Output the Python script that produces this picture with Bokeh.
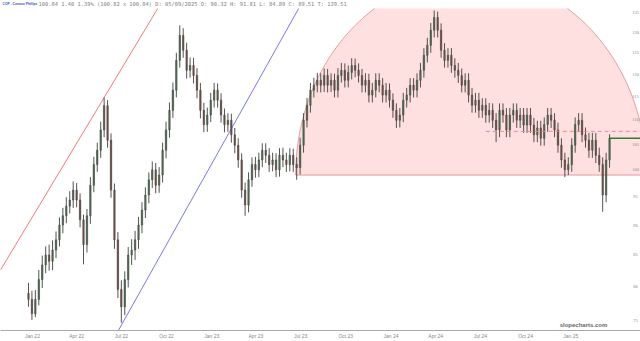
import numpy as np
import pandas as pd
from bokeh.plotting import figure
from bokeh.models import (ColumnDataSource, FixedTicker, DatetimeTickFormatter,
                          Label, LabelSet)
from bokeh.embed import file_html
from bokeh.resources import INLINE

# ---------------- data (weekly bars) ----------------
week_start = "2021-12-24"
n_weeks = 170

opens = [79.0, 78.1, 76.0, 78.1, 81.1, 83.4, 85.0, 84.0, 85.8, 87.5,
         90.0, 91.6, 93.3, 94.4, 96.2, 94.4, 90.9, 86.7, 91.6, 97.1,
         101.0, 103.8, 107.9, 113.0, 105.8, 96.2, 87.5, 79.6, 77.0, 81.1,
         85.0, 85.8, 87.5, 90.0, 92.6, 95.3, 98.1, 100.0, 97.1, 99.0,
         103.8, 107.9, 112.0, 116.4, 123.2, 129.2, 125.6, 120.9, 122.0, 119.7,
         116.4, 112.0, 109.0, 111.0, 114.2, 116.4, 114.2, 111.0, 109.0, 109.9,
         106.9, 104.8, 101.9, 96.2, 93.5, 98.1, 101.0, 100.0, 101.9, 103.8,
         102.8, 101.0, 101.9, 100.0, 102.8, 101.9, 101.0, 102.8, 101.0, 100.4,
         104.8, 109.9, 113.1, 116.4, 117.5, 118.6, 117.5, 119.7, 117.5, 118.6,
         116.4, 119.7, 120.9, 118.6, 120.4, 122.0, 120.9, 119.7, 117.5, 118.6,
         115.3, 116.4, 118.6, 117.5, 115.3, 116.4, 114.2, 112.0, 109.9, 111.0,
         114.2, 115.3, 117.5, 116.4, 118.6, 120.9, 124.4, 126.8, 130.5, 133.7,
         130.5, 125.6, 123.2, 124.4, 122.0, 120.9, 119.7, 117.5, 118.6, 115.3,
         113.1, 114.2, 112.0, 113.1, 111.0, 112.0, 109.9, 107.9, 112.0, 111.0,
         107.9, 111.0, 112.0, 109.9, 111.0, 108.9, 111.0, 108.9, 106.9, 108.3,
         106.2, 109.0, 111.0, 109.9, 107.9, 104.8, 101.9, 100.0, 101.0, 104.8,
         109.0, 109.9, 106.9, 105.8, 103.8, 105.8, 102.8, 101.0, 95.3, 101.9]

closes = [78.1, 76.0, 78.1, 81.1, 83.4, 85.0, 84.0, 85.8, 87.5, 90.0,
          91.6, 93.3, 94.4, 96.2, 94.4, 90.9, 86.7, 91.6, 97.1, 101.0,
          103.8, 107.9, 113.0, 105.8, 96.2, 87.5, 79.6, 77.0, 81.1, 85.0,
          85.8, 87.5, 90.0, 92.6, 95.3, 98.1, 100.0, 97.1, 99.0, 103.8,
          107.9, 112.0, 116.4, 123.2, 129.2, 125.6, 120.9, 122.0, 119.7, 116.4,
          112.0, 109.0, 111.0, 114.2, 116.4, 114.2, 111.0, 109.0, 109.9, 106.9,
          104.8, 101.9, 96.2, 93.5, 98.1, 101.0, 100.0, 101.9, 103.8, 102.8,
          101.0, 101.9, 100.0, 102.8, 101.9, 101.0, 102.8, 101.0, 100.4, 104.8,
          109.9, 113.1, 116.4, 117.5, 118.6, 117.5, 119.7, 117.5, 118.6, 116.4,
          119.7, 120.9, 118.6, 120.4, 122.0, 120.9, 119.7, 117.5, 118.6, 115.3,
          116.4, 118.6, 117.5, 115.3, 116.4, 114.2, 112.0, 109.9, 111.0, 114.2,
          115.3, 117.5, 116.4, 118.6, 120.9, 124.4, 126.8, 130.5, 133.7, 130.5,
          125.6, 123.2, 124.4, 122.0, 120.9, 119.7, 117.5, 118.6, 115.3, 113.1,
          114.2, 112.0, 113.1, 111.0, 112.0, 109.9, 107.9, 112.0, 111.0, 107.9,
          111.0, 112.0, 109.9, 111.0, 108.9, 111.0, 108.9, 106.9, 108.3, 106.2,
          109.0, 111.0, 109.9, 107.9, 104.8, 101.9, 100.0, 101.0, 104.8, 109.0,
          109.9, 106.9, 105.8, 103.8, 105.8, 102.8, 101.0, 95.3, 101.9, 106.2]

highs = [80.6, 79.4, 79.5, 82.6, 84.9, 86.4, 86.7, 87.4, 88.9, 91.3,
         93.0, 94.9, 96.0, 97.8, 97.5, 95.6, 91.8, 92.8, 98.6, 102.5,
         105.3, 109.6, 114.8, 114.2, 107.2, 97.4, 88.8, 81.0, 82.4, 86.3,
         87.6, 89.0, 91.4, 94.0, 96.7, 99.5, 101.6, 101.3, 100.5, 105.3,
         109.6, 113.7, 118.1, 125.0, 131.7, 131.0, 127.4, 123.9, 123.8, 121.4,
         118.0, 113.6, 112.6, 115.8, 118.0, 117.9, 115.7, 112.4, 111.4, 111.3,
         108.3, 106.2, 103.2, 97.6, 99.5, 102.4, 102.5, 103.3, 105.2, 105.2,
         104.2, 103.3, 103.2, 104.2, 104.3, 103.3, 104.2, 104.1, 102.4, 106.3,
         111.4, 114.7, 118.0, 119.2, 120.3, 120.2, 121.3, 121.2, 120.2, 120.1,
         121.4, 122.6, 122.5, 122.0, 123.7, 123.6, 122.5, 121.2, 120.2, 120.1,
         118.0, 120.2, 120.2, 119.1, 118.0, 117.9, 115.7, 113.5, 112.5, 115.8,
         116.9, 119.1, 119.1, 120.2, 122.6, 126.1, 128.6, 132.3, 135.5, 135.2,
         132.2, 127.3, 126.1, 126.1, 123.7, 122.6, 121.3, 120.2, 120.2, 116.9,
         115.8, 115.8, 114.6, 114.6, 113.6, 113.5, 111.4, 113.5, 113.5, 112.5,
         112.5, 113.5, 113.5, 112.5, 112.5, 112.5, 112.5, 110.4, 109.8, 109.8,
         110.5, 112.5, 112.5, 111.4, 109.4, 106.2, 103.3, 102.4, 106.2, 110.5,
         111.4, 111.4, 108.4, 107.3, 107.3, 107.3, 104.3, 102.4, 103.3, 107.0]

lows = [77.0, 75.1, 75.5, 77.2, 79.8, 82.1, 82.5, 82.6, 84.5, 86.4,
        88.6, 90.3, 92.0, 93.0, 93.1, 89.6, 83.5, 85.4, 90.2, 95.8,
        99.6, 102.3, 106.4, 104.3, 94.8, 86.0, 78.3, 74.7, 75.8, 79.9,
        83.4, 84.2, 86.0, 88.6, 91.2, 93.8, 96.6, 95.6, 95.7, 97.6,
        102.2, 106.3, 110.4, 114.8, 121.5, 123.8, 119.0, 119.2, 117.9, 114.6,
        110.3, 107.4, 107.5, 109.5, 112.6, 112.6, 109.4, 107.4, 107.5, 105.3,
        103.2, 100.4, 94.8, 91.6, 92.2, 96.8, 98.5, 98.6, 100.5, 101.3,
        99.6, 99.7, 98.6, 98.7, 100.5, 99.6, 99.7, 99.6, 98.1, 99.1,
        103.3, 108.4, 111.5, 114.8, 115.9, 115.9, 116.0, 115.9, 116.0, 114.8,
        114.8, 118.1, 117.0, 117.0, 118.8, 119.3, 118.1, 115.9, 115.9, 113.7,
        113.7, 114.8, 115.9, 113.7, 113.7, 112.6, 110.4, 108.3, 108.4, 109.5,
        112.6, 113.7, 114.8, 114.8, 117.0, 119.2, 122.7, 125.0, 128.7, 128.7,
        123.8, 121.5, 121.5, 120.3, 119.2, 118.0, 115.9, 115.9, 113.7, 111.5,
        111.5, 110.4, 110.4, 109.4, 109.4, 108.3, 105.4, 106.4, 109.4, 106.4,
        106.4, 109.4, 108.3, 108.3, 107.3, 107.3, 107.3, 105.4, 105.4, 104.7,
        104.7, 107.5, 108.3, 106.4, 103.3, 100.4, 98.6, 99.0, 99.6, 103.3,
        107.5, 105.4, 104.3, 102.3, 102.3, 101.3, 99.6, 92.3, 94.0, 100.4]

y_ticks = [75, 80, 85, 90, 95, 100, 105, 110, 115, 120, 125, 130, 135]
x_tick_dates = ["2022-01-01", "2022-04-01", "2022-07-01", "2022-10-01",
                "2023-01-01", "2023-04-01", "2023-07-01", "2023-10-01",
                "2024-01-01", "2024-04-01", "2024-07-01", "2024-10-01",
                "2025-01-01"]

# drawing objects on the chart
chart_top = 136.0          # upper edge of the original chart's price pane
red_trend = (["2021-10-28", "2022-09-13"], [82.6, chart_top])
blue_trend = (["2022-06-25", "2023-06-27"], [73.6, chart_top])
arc_center = "2024-06-12"
arc_half_days = 357
arc_base = 99.0
arc_top = 144.8
dash_level = 107.6
dash_start = "2024-07-12"
last_level = 106.2

title_link = "COP - Conoco Phillips"
title_rest = ("100.84 1.40 1.39% (100.82 x 100.84) D: 05/09/2025 O: 90.32 "
              "H: 91.81 L: 84.89 C: 89.51 T: 139.51")

# ---------------- figure ----------------
x_start = pd.Timestamp("2021-10-28")
x_end = pd.Timestamp("2025-05-23")

p = figure(width=640, height=341, x_axis_type="datetime", y_axis_type="log",
           x_range=(x_start, x_end), y_range=(73.6, 138.1),
           y_axis_location=None, toolbar_location=None,
           output_backend="svg", min_border=0)
p.outline_line_color = None
p.xgrid.visible = False
p.ygrid.visible = False
p.background_fill_color = "white"

# pink arc zone (half ellipse in screen space, cut at the pane top)
t = np.linspace(0, np.pi, 300)
c_ms = pd.Timestamp(arc_center).value / 1e6
half_ms = arc_half_days * 86400000.0
ax = c_ms + np.cos(t) * half_ms
ay_full = arc_base * (arc_top / arc_base) ** np.sin(t)
ay = np.minimum(ay_full, chart_top)
p.patch(ax, ay, fill_color="#ffcccc", fill_alpha=0.6, line_color=None)
ay_edge = np.where(ay_full > chart_top, np.nan, ay_full)
p.line(ax, ay_edge, line_color="#e39a9a", line_width=1)
p.line([ax[0], ax[-1]], [arc_base, arc_base], line_color="#e39a9a",
       line_width=1)

# trend lines
p.line(pd.to_datetime(red_trend[0]), red_trend[1], line_color="#f07b7b",
       line_width=1)
p.line(pd.to_datetime(blue_trend[0]), blue_trend[1], line_color="#7b78e8",
       line_width=1)

# candles
dates = pd.date_range(week_start, periods=n_weeks, freq="7D")
o = np.array(opens); c = np.array(closes)
src = ColumnDataSource(dict(x=dates, o=o, c=c, h=np.array(highs),
                            l=np.array(lows),
                            top=np.maximum(o, c), bot=np.minimum(o, c),
                            col=np.where(c >= o, "#4d7350", "#7d5044")))
p.segment("x", "h", "x", "l", source=src, line_color="#404040",
          line_width=0.9)
p.vbar(x="x", top="top", bottom="bot", width=3.0 * 86400000, source=src,
       fill_color="col", line_color="#404040", line_width=0.5)

# horizontal lines
p.line([pd.Timestamp(dash_start), x_end], [dash_level, dash_level],
       line_color="#e88a8a", line_dash="4 3", line_width=1)
p.line([dates[-1], x_end], [last_level, last_level],
       line_color="#2e7d32", line_width=1.5)

# x axis
p.xaxis.ticker = FixedTicker(ticks=[pd.Timestamp(d).value / 1e6 for d in x_tick_dates])
fmt = "%b %y"
p.xaxis.formatter = DatetimeTickFormatter(days=fmt, months=fmt, years=fmt)
p.xaxis.major_label_text_font_size = "5px"
p.xaxis.major_label_text_color = "#888888"
p.xaxis.major_tick_out = 0
p.xaxis.major_tick_in = 0
p.xaxis.minor_tick_out = 0
p.xaxis.minor_tick_in = 0
p.xaxis.major_label_standoff = 2
p.xaxis.axis_line_color = "#aaaaaa"

# y labels inside the plot on the right
ysrc = ColumnDataSource(dict(y=y_ticks, t=[str(v) for v in y_ticks],
                             x=[635] * len(y_ticks)))
p.add_layout(LabelSet(x="x", y="y", text="t", x_units="screen", source=ysrc,
                      text_font_size="4.5px", text_color="#888888",
                      text_align="center", text_baseline="middle",
                      text_font="DejaVu Sans Mono"))

# title and watermark
p.add_layout(Label(x=2, y=327, x_units="screen", y_units="screen",
                   text=title_link, text_font_size="3.3px",
                   text_color="#3b4fc4", text_font="Liberation Sans",
                   text_font_style="bold", text_baseline="middle"))
p.add_layout(Label(x=38, y=327, x_units="screen", y_units="screen",
                   text=title_rest, text_font_size="5.4px",
                   text_color="#808080", text_font="DejaVu Sans Mono",
                   text_baseline="middle"))
p.add_layout(Label(x=583, y=6, x_units="screen", y_units="screen",
                   text="slopecharts.com", text_font_size="6px",
                   text_font_style="bold", text_color="#666666",
                   text_align="center", text_baseline="middle"))

open("out.html", "w").write(file_html(p, INLINE))
